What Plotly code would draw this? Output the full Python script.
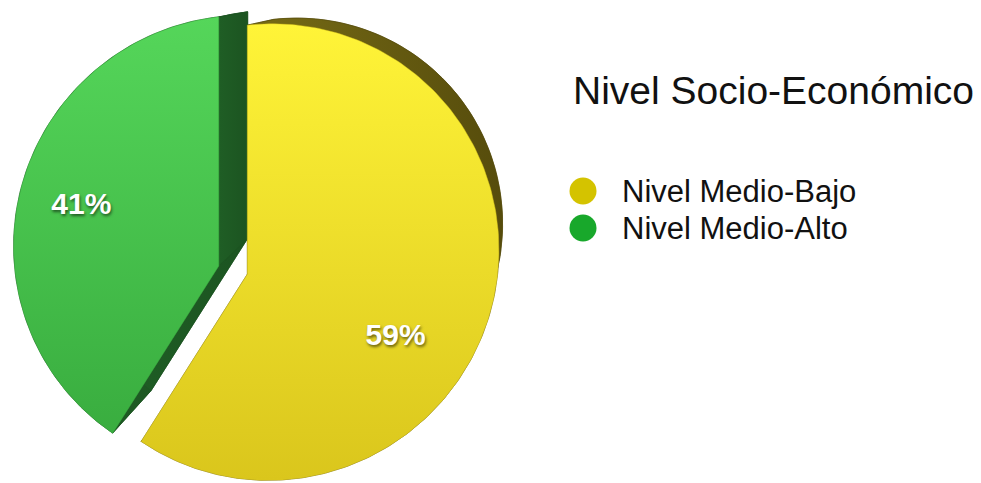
import math
import plotly.graph_objects as go

# Survey breakdown by socio-economic level
categories = ["Nivel Medio-Bajo", "Nivel Medio-Alto"]
values = [59, 41]
legend_title = "Nivel Socio-Económico"

W, H = 981, 483

# slice styling (same order as categories)
face_top = ["#fff438", "#55d65a"]
face_bottom = ["#dac61c", "#39ad3f"]
wall_left = ["#85791a", "#1f5e25"]
wall_right = ["#564c0c", "#1c5421"]
legend_colors = ["#d4c300", "#18a82b"]

# tilted-pie geometry, in screen pixels (y grows downwards)
CENTER = (233.0, 270.0)
RADIUS = 225.0
PULL = 0.066            # explode distance as a fraction of the radius
KX, KY = 0.101, 0.0965  # perspective foreshortening
VANISH = (540.0, -39.0)
DEPTH = 0.09
LABEL_RHO = 0.69
LABEL_TURN = math.radians(7)


def offset(theta, rho):
    """Projected offset of a disk point (angle clockwise from 12 o'clock)."""
    u = rho * math.sin(theta)
    v = rho * math.cos(theta)
    s = 1.0 / (1.0 - KX * u - KY * v)
    return RADIUS * u * s, -RADIUS * v * s


def to_data(pts):
    return [p[0] for p in pts], [H - p[1] for p in pts]


def back_of(p):
    k = 1.0 - DEPTH
    return (VANISH[0] + k * (p[0] - VANISH[0]), VANISH[1] + k * (p[1] - VANISH[1]))


total = float(sum(values))
slices = []
start = 0.0
for i, val in enumerate(values):
    sweep = 2 * math.pi * val / total
    end = start + sweep
    mid = (start + end) / 2
    dx, dy = offset(mid, PULL)
    vx, vy = CENTER[0] + dx, CENTER[1] + dy
    n = max(8, int(math.degrees(sweep)))
    arc = []
    for k in range(n + 1):
        t = start + sweep * k / n
        ox, oy = offset(t, 1.0)
        arc.append((vx + ox, vy + oy))
    lx, ly = offset(mid + LABEL_TURN, LABEL_RHO)
    slices.append(dict(vertex=(vx, vy), arc=arc, label=(vx + lx, vy + ly), value=val))
    start = end

fig = go.Figure()


def wall_trace(pts, i):
    x, y = to_data(pts + [pts[0]])
    return go.Scatter(
        x=x, y=y, mode="lines", fill="toself",
        line=dict(color=wall_right[i], width=0.6),
        fillgradient=dict(type="horizontal",
                          colorscale=[[0, wall_left[i]], [1, wall_right[i]]]),
        hoverinfo="skip", showlegend=False)


# extruded sides: back face, the two radial walls and the curved outer wall
for i, sl in enumerate(slices):
    v = sl["vertex"]
    arc = sl["arc"]
    bv = back_of(v)
    barc = [back_of(p) for p in arc]
    fig.add_trace(wall_trace([bv] + barc, i))
    fig.add_trace(wall_trace([v, arc[0], barc[0], bv], i))
    fig.add_trace(wall_trace([v, arc[-1], barc[-1], bv], i))
    fig.add_trace(wall_trace(arc + barc[::-1], i))

# top faces (green first so the yellow slice sits in front)
for i in [1, 0]:
    sl = slices[i]
    fx, fy = to_data([sl["vertex"]] + sl["arc"] + [sl["vertex"]])
    fig.add_trace(go.Scatter(
        x=fx, y=fy, mode="lines", fill="toself",
        line=dict(color=face_bottom[i], width=0.5),
        fillgradient=dict(type="vertical",
                          colorscale=[[0, face_bottom[i]], [1, face_top[i]]]),
        name=categories[i], hoverinfo="name", showlegend=False))

# percentage labels
lx, ly = to_data([s["label"] for s in slices])
fig.add_trace(go.Scatter(
    x=lx, y=ly, mode="text",
    text=[f"{s['value']}%" for s in slices],
    textposition="middle center",
    textfont=dict(family="Liberation Sans, Arial, sans-serif", size=30,
                  color="white", weight="bold",
                  shadow="1px 2px 3px rgba(0,0,0,0.55)"),
    hoverinfo="skip", showlegend=False))

# legend
LEG_X_MARK, LEG_X_TEXT = 583, 622
LEG_Y = [191, 228]
fig.add_trace(go.Scatter(
    x=[LEG_X_MARK] * len(categories), y=[H - y for y in LEG_Y],
    mode="markers",
    marker=dict(size=27, color=legend_colors, line=dict(width=0)),
    hoverinfo="skip", showlegend=False))

annotations = [dict(
    x=571, y=H - 90, xref="x", yref="y", text=legend_title,
    showarrow=False, xanchor="left", yanchor="middle",
    font=dict(family="Liberation Sans, Arial, sans-serif", size=39, color="#111111"))]
for name, yy in zip(categories, LEG_Y):
    annotations.append(dict(
        x=LEG_X_TEXT - 2, y=H - yy, xref="x", yref="y", text=name,
        showarrow=False, xanchor="left", yanchor="middle",
        font=dict(family="Liberation Sans, Arial, sans-serif", size=31, color="#111111")))

fig.update_layout(
    width=W, height=H,
    margin=dict(l=0, r=0, t=0, b=0),
    paper_bgcolor="white", plot_bgcolor="white",
    xaxis=dict(range=[0, W], visible=False, fixedrange=True),
    yaxis=dict(range=[0, H], visible=False, fixedrange=True),
    annotations=annotations,
    showlegend=False,
)

fig.write_html("out.html")
